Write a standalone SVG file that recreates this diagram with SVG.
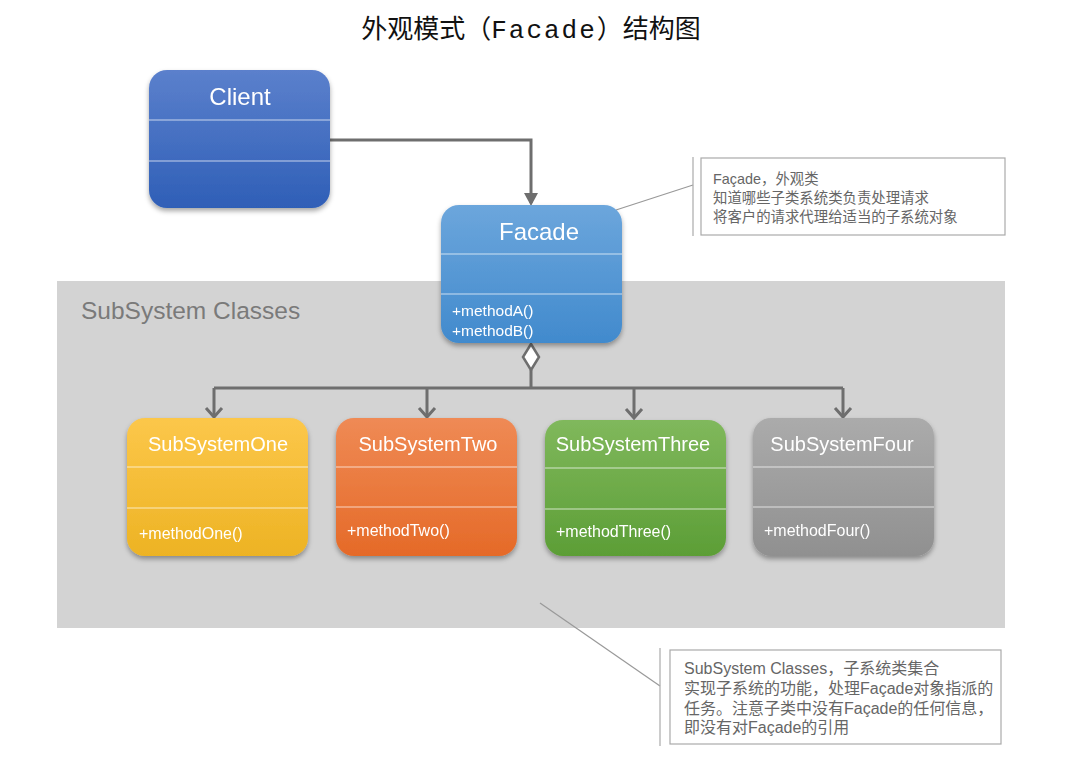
<svg xmlns="http://www.w3.org/2000/svg" width="1066" height="760" viewBox="0 0 1066 760">
<style>
.t{font-family:"Liberation Sans","Noto Sans CJK SC",sans-serif;fill:#fff}
.hd{font-size:24px;text-anchor:middle}
.sh{font-size:20px;text-anchor:middle}
.m{font-size:16px}
.dv{stroke:#fff;stroke-opacity:.7;stroke-width:1.2}
.note{font-family:"Liberation Sans","Noto Sans CJK SC",sans-serif;font-size:14.4px;fill:#666}
.note2{font-family:"Liberation Sans","Noto Sans CJK SC",sans-serif;font-size:16px;fill:#666}
.conn{stroke:#6e6e6e;stroke-width:3;fill:none}
.lead{stroke:#999;stroke-width:1.2;fill:none}
</style>
<defs>
<linearGradient id="gClient" x1="0" y1="0" x2="0" y2="1"><stop offset="0" stop-color="#5b80cc"/><stop offset="1" stop-color="#2f5fb7"/></linearGradient>
<linearGradient id="gFacade" x1="0" y1="0" x2="0" y2="1"><stop offset="0" stop-color="#6ca6dc"/><stop offset="1" stop-color="#418acd"/></linearGradient>
<linearGradient id="gOne" x1="0" y1="0" x2="0" y2="1"><stop offset="0" stop-color="#fcc74a"/><stop offset="1" stop-color="#edb324"/></linearGradient>
<linearGradient id="gTwo" x1="0" y1="0" x2="0" y2="1"><stop offset="0" stop-color="#ef8a55"/><stop offset="1" stop-color="#e56a28"/></linearGradient>
<linearGradient id="gThree" x1="0" y1="0" x2="0" y2="1"><stop offset="0" stop-color="#80b85c"/><stop offset="1" stop-color="#5c9e36"/></linearGradient>
<linearGradient id="gFour" x1="0" y1="0" x2="0" y2="1"><stop offset="0" stop-color="#ababab"/><stop offset="1" stop-color="#909090"/></linearGradient>
<filter id="sh" x="-10%" y="-10%" width="120%" height="125%"><feDropShadow dx="0" dy="3" stdDeviation="2.5" flood-color="#000" flood-opacity="0.35"/></filter>
</defs>
<rect width="1066" height="760" fill="#fff"/>

<text x="531" y="38" font-family="Noto Sans CJK SC,sans-serif" font-size="26" text-anchor="middle" fill="#111">外观模式（<tspan font-family="Liberation Mono,monospace" letter-spacing="2">Facade</tspan>）结构图</text>

<g id="subsystem-area">
<rect x="57" y="281" width="948" height="347" fill="#d3d3d3"/>
<text x="81" y="319" font-family="Liberation Sans,sans-serif" font-size="24.5" fill="#7a7a7a">SubSystem Classes</text>
</g>

<g id="connectors">
<path class="conn" d="M330,140 H531 V203"/>
<path d="M524,193 L531,206 L538,193 Z" fill="#6e6e6e"/>
<path class="conn" d="M531,370 V388 M214,388 H843"/>
<path class="conn" d="M214,388 V417 M427,388 V417 M634,388 V418 M843,388 V417"/>
<path d="M206,408 L214,417 L222,408 M419,408 L427,417 L435,408 M626,409 L634,418 L642,409 M835,408 L843,417 L851,408" fill="none" stroke="#6e6e6e" stroke-width="3"/>
<path d="M531,344 L539,357 L531,370 L523,357 Z" fill="#fff" stroke="#6e6e6e" stroke-width="2.5"/>
<path class="lead" d="M693,185 L616,210"/>
<path class="lead" d="M540,603 L660,686"/>
</g>

<g id="client" filter="url(#sh)">
<rect x="149" y="70" width="181" height="138" rx="18" fill="url(#gClient)"/>
<line class="dv" x1="149" y1="120" x2="330" y2="120"/>
<line class="dv" x1="149" y1="161" x2="330" y2="161"/>
<text class="t hd" x="240" y="105">Client</text>
</g>

<g id="facade" filter="url(#sh)">
<rect x="441" y="205" width="181" height="138" rx="18" fill="url(#gFacade)"/>
<line class="dv" x1="441" y1="254" x2="622" y2="254"/>
<line class="dv" x1="441" y1="294" x2="622" y2="294"/>
<text class="t hd" x="539" y="240">Facade</text>
<text class="t" x="452" y="316" font-size="15.5">+methodA()</text>
<text class="t" x="452" y="336" font-size="15.5">+methodB()</text>
</g>

<g id="subsystem-one" filter="url(#sh)">
<rect x="127" y="418" width="181" height="138" rx="18" fill="url(#gOne)"/>
<line class="dv" x1="127" y1="467" x2="308" y2="467"/>
<line class="dv" x1="127" y1="508" x2="308" y2="508"/>
<text class="t sh" x="218" y="451">SubSystemOne</text>
<text class="t m" x="139" y="539">+methodOne()</text>
</g>

<g id="subsystem-two" filter="url(#sh)">
<rect x="336" y="418" width="181" height="138" rx="18" fill="url(#gTwo)"/>
<line class="dv" x1="336" y1="467" x2="517" y2="467"/>
<line class="dv" x1="336" y1="507" x2="517" y2="507"/>
<text class="t sh" x="428" y="451">SubSystemTwo</text>
<text class="t m" x="347" y="536">+methodTwo()</text>
</g>

<g id="subsystem-three" filter="url(#sh)">
<rect x="545" y="420" width="181" height="136" rx="18" fill="url(#gThree)"/>
<line class="dv" x1="545" y1="468" x2="726" y2="468"/>
<line class="dv" x1="545" y1="509" x2="726" y2="509"/>
<text class="t sh" x="633" y="451">SubSystemThree</text>
<text class="t m" x="556" y="537">+methodThree()</text>
</g>

<g id="subsystem-four" filter="url(#sh)">
<rect x="753" y="418" width="181" height="138" rx="18" fill="url(#gFour)"/>
<line class="dv" x1="753" y1="467" x2="934" y2="467"/>
<line class="dv" x1="753" y1="507" x2="934" y2="507"/>
<text class="t sh" x="842" y="451">SubSystemFour</text>
<text class="t m" x="764" y="536">+methodFour()</text>
</g>

<g id="note-facade">
<line x1="693" y1="157" x2="693" y2="236" stroke="#aaa" stroke-width="1.2"/>
<rect x="701" y="158" width="304" height="77" fill="#fff" stroke="#aaa" stroke-width="1.2"/>
<text class="note" x="713" y="184">Façade，外观类</text>
<text class="note" x="713" y="203">知道哪些子类系统类负责处理请求</text>
<text class="note" x="713" y="222">将客户的请求代理给适当的子系统对象</text>
</g>

<g id="note-subsystem">
<line x1="660" y1="648" x2="660" y2="746" stroke="#aaa" stroke-width="1.2"/>
<rect x="670" y="650" width="331" height="94" fill="#fff" stroke="#aaa" stroke-width="1.2"/>
<text class="note2" x="684" y="674">SubSystem Classes，子系统类集合</text>
<text class="note2" x="684" y="694">实现子系统的功能，处理Façade对象指派的</text>
<text class="note2" x="684" y="714">任务。注意子类中没有Façade的任何信息，</text>
<text class="note2" x="684" y="733">即没有对Façade的引用</text>
</g>
</svg>
